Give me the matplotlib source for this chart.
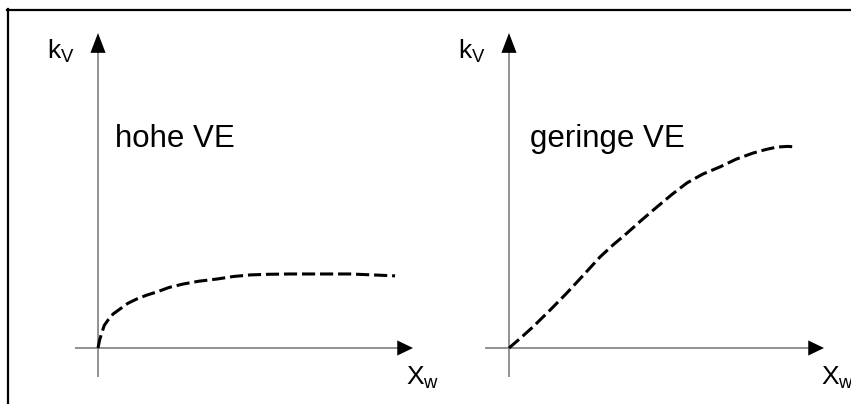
import matplotlib
matplotlib.use("Agg")
import matplotlib.pyplot as plt
from matplotlib.lines import Line2D

plt.rcParams["font.family"] = ["Liberation Sans", "DejaVu Sans"]
plt.rcParams["mathtext.fontset"] = "custom"
plt.rcParams["mathtext.rm"] = "Liberation Sans"

# curve values in axis units (both axis arrows end at 10)
hohe_x = [0, 0.05, 0.13, 0.20, 0.32, 0.48, 0.70, 0.95, 1.24, 1.55, 1.87,
          2.25, 2.70, 3.20, 3.78, 4.30, 4.83, 5.40, 6.10, 7.14, 8.00, 8.73, 9.43]
hohe_y = [0, 0.25, 0.51, 0.72, 0.89, 1.08, 1.24, 1.42, 1.56, 1.68, 1.78,
          1.92, 2.03, 2.12, 2.19, 2.27, 2.32, 2.34, 2.35, 2.35, 2.35, 2.32, 2.29]
geringe_x = [0, 0.35, 0.76, 1.30, 1.84, 2.35, 2.89, 3.30, 3.75, 4.22, 4.70,
             5.18, 5.65, 6.15, 6.70, 7.20, 7.75, 8.15, 8.51, 8.85, 9.14]
geringe_y = [0, 0.30, 0.67, 1.20, 1.75, 2.30, 2.89, 3.27, 3.65, 4.07, 4.48,
             4.88, 5.24, 5.52, 5.75, 5.99, 6.19, 6.30, 6.38, 6.40, 6.38]

panel_labels = ["hohe VE", "geringe VE"]
y_label = "k$_{\\mathrm{V}}$"
x_label = "X$_{\\mathrm{w}}$"

W, H = 851, 404
PX = 31.5          # pixels per axis unit
AXIS_GRAY = "#7f7f7f"


def panel_axes(fig, ox, oy):
    # ox, oy: pixel position of the origin (top-left image coords)
    x0 = ox - 2 * PX
    y0 = oy + 2 * PX
    ax = fig.add_axes([x0 / W, (H - y0) / H, 13 * PX / W, 13 * PX / H])
    ax.set_xlim(-2, 11)
    ax.set_ylim(-2, 11)
    ax.axis("off")
    return ax


def draw_axes(ax, x_start):
    xl, yl, hw = 0.5, 0.63, 0.24
    ax.plot([x_start, 10 - xl + 0.1], [0, 0], color=AXIS_GRAY, lw=1.2,
            solid_capstyle="butt", clip_on=False)
    ax.plot([0, 0], [-0.92, 10 - yl + 0.1], color=AXIS_GRAY, lw=1.2,
            solid_capstyle="butt", clip_on=False)
    ax.fill([10 - xl, 10, 10 - xl], [hw, 0, -hw], color="black", lw=0,
            clip_on=False, zorder=3)
    ax.fill([-hw, 0, hw], [10 - yl, 10, 10 - yl], color="black", lw=0,
            clip_on=False, zorder=3)


fig = plt.figure(figsize=(W / 100, H / 100), dpi=100)

# frame (top and left only)
fig.add_artist(Line2D([7 / W, 1], [(H - 10) / H] * 2, color="black", lw=1.6,
                      transform=fig.transFigure))
fig.add_artist(Line2D([8 / W] * 2, [0, (H - 9) / H], color="black", lw=1.6,
                      transform=fig.transFigure))

panels = [
    (98, 348, hohe_x, hohe_y, panel_labels[0], -0.73, 0.54, 9.78),
    (509, 348, geringe_x, geringe_y, panel_labels[1], -0.76, 0.67, 9.92),
]

for ox, oy, xs, ys, label, x_start, lab_x, xw_x in panels:
    ax = panel_axes(fig, ox, oy)
    draw_axes(ax, x_start)
    ax.plot(xs, ys, color="black", lw=2.2, ls=(0, (4.3, 1.6)),
            dash_capstyle="butt", solid_joinstyle="round", clip_on=False, zorder=4)
    ax.text(-1.62, 9.2, y_label, fontsize=19, ha="left", va="baseline")
    ax.text(xw_x, -1.17, x_label, fontsize=19, ha="left", va="baseline")
    ax.text(lab_x, 6.37, label, fontsize=22.5, ha="left", va="baseline")

fig.savefig("out.png", dpi=100)
